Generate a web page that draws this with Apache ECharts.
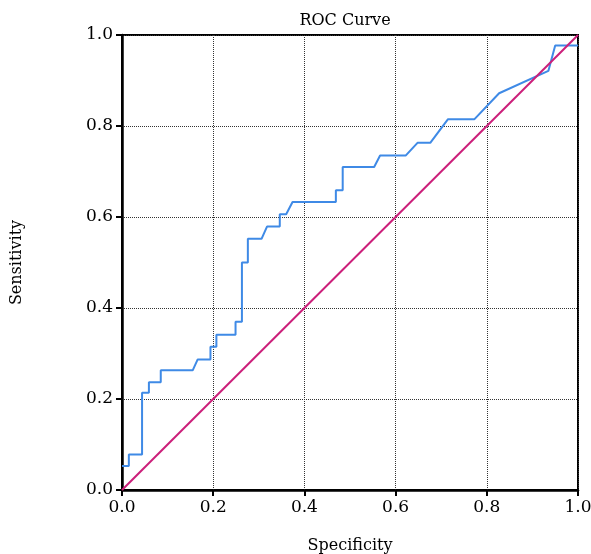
<!DOCTYPE html>
<html><head><meta charset="utf-8">
<script src="https://cdn.jsdelivr.net/npm/echarts@6/dist/echarts.min.js"></script>
<style>html,body{margin:0;padding:0;background:#fff}#c{width:591px;height:554px}</style>
</head><body><div id="c"></div>
<script>
var rocX = [0, 0.015, 0.015, 0.044, 0.044, 0.059, 0.059, 0.085, 0.085, 0.155, 0.166, 0.194, 0.194, 0.207, 0.207, 0.249, 0.249, 0.263, 0.263, 0.276, 0.276, 0.306, 0.318, 0.346, 0.346, 0.360, 0.374, 0.469, 0.469, 0.484, 0.484, 0.553, 0.566, 0.622, 0.648, 0.676, 0.715, 0.773, 0.827, 0.935, 0.950, 1.0];
var rocY = [0.053, 0.053, 0.078, 0.078, 0.214, 0.214, 0.237, 0.237, 0.263, 0.263, 0.287, 0.287, 0.315, 0.315, 0.341, 0.341, 0.370, 0.370, 0.500, 0.500, 0.552, 0.552, 0.579, 0.579, 0.606, 0.606, 0.633, 0.633, 0.659, 0.659, 0.710, 0.710, 0.735, 0.735, 0.763, 0.763, 0.815, 0.815, 0.872, 0.921, 0.977, 0.977];
var refX = [0, 1];
var refY = [0, 1];
var tickLabels = ['0.0', '0.2', '0.4', '0.6', '0.8', '1.0'];

var font = 'DejaVu Serif';
var roc = rocX.map(function (x, i) { return [x, rocY[i]]; });
var ref = refX.map(function (x, i) { return [x, refY[i]]; });
function fmt(v) { return tickLabels[Math.round(v / 0.2)]; }
function axis(name, gap) {
  return {
    type: 'value', min: 0, max: 1, interval: 0.2,
    name: name, nameLocation: 'middle', nameGap: gap,
    nameTextStyle: { fontFamily: font, fontSize: 16, color: '#000' },
    axisLine: { show: true, lineStyle: { color: '#000', width: 2.5 } },
    axisTick: { show: true, inside: false, length: 6, lineStyle: { color: '#000', width: 2 } },
    axisLabel: { fontFamily: font, fontSize: 17, color: '#000', margin: 9, formatter: fmt },
    splitLine: { show: true, lineStyle: { type: 'dotted', color: '#333', width: 1 } }
  };
}
var chart = echarts.init(document.getElementById('c'), null, { renderer: 'canvas' });
chart.setOption({
  animation: false,
  backgroundColor: '#fff',
  title: { text: 'ROC Curve', left: 340, top: 8, textAlign: 'center',
    textStyle: { fontFamily: font, fontSize: 16, fontWeight: 'normal', color: '#000' } },
  grid: { left: 122, right: 13, top: 35, bottom: 64, show: true, borderColor: '#000', borderWidth: 2,
    containLabel: false, outerBoundsMode: 'none' },
  xAxis: axis('Specificity', 48),
  yAxis: axis('Sensitivity', 97),
  series: [
    { type: 'line', data: ref, showSymbol: false, symbol: 'none',
      lineStyle: { color: '#cc1f7a', width: 2 }, z: 3 },
    { type: 'line', data: roc, showSymbol: false, symbol: 'none',
      lineStyle: { color: '#3f8ae6', width: 2 }, z: 2 }
  ]
});
</script></body></html>
